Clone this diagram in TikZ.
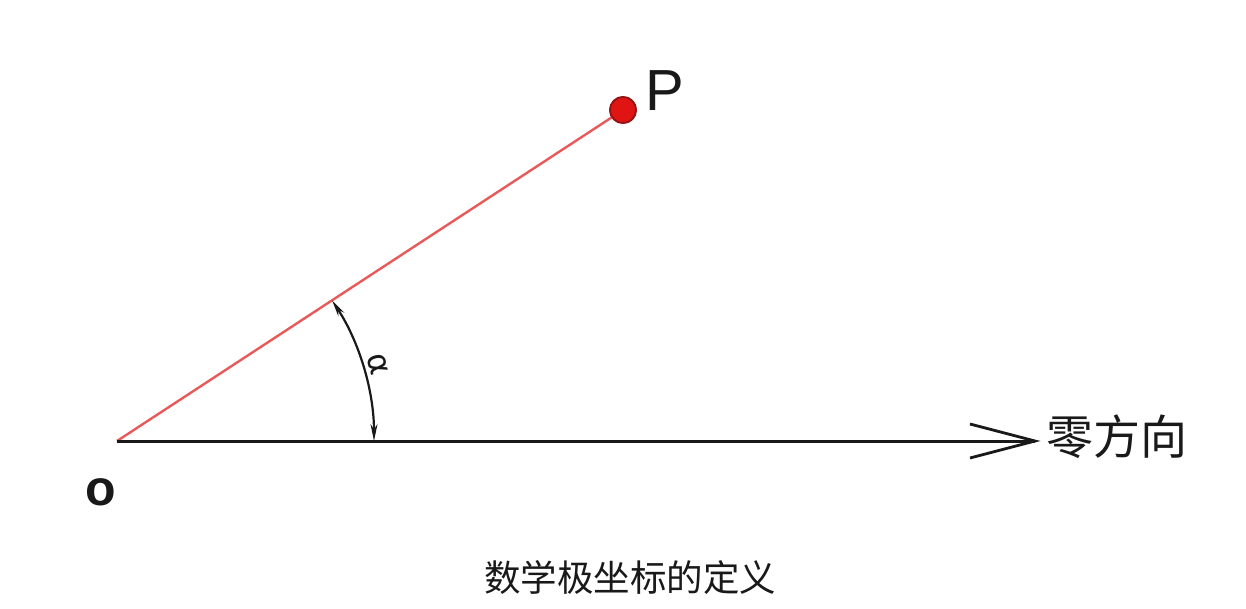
\documentclass[tikz,border=0pt]{standalone}
\usepackage{fontspec}
\setmainfont{Liberation Sans}
\newfontfamily\cjk{Noto Sans CJK SC}
\newfontfamily\greek{DejaVu Sans}
\usetikzlibrary{arrows.meta}
\definecolor{linered}{RGB}{232,90,90}
\definecolor{dotred}{RGB}{225,20,20}
\definecolor{dotedge}{RGB}{150,20,20}
\tikzset{
  axisline/.style={line width=3pt, black!90},
  rayline/.style={line width=2.4pt, linered},
  anglearc/.style={line width=2.2pt, black!90, {Stealth[length=17pt,width=7pt]}-{Stealth[length=17pt,width=7pt]}},
  pointdot/.style={circle, fill=dotred, draw=dotedge, line width=1.8pt, minimum size=26pt, inner sep=0pt},
  lbl/.style={inner sep=0pt, text=black!90},
}
\begin{document}
\begin{tikzpicture}[x=1pt,y=-1pt]
\useasboundingbox (0,0) rectangle (1246,608);
\coordinate (O) at (117,441);
\coordinate (E) at (1035,441);
\node[pointdot] (P) at (623,110) {};
\draw[rayline] (O) -- (P.center);
\node[pointdot] at (623,110) {};
\draw[axisline] (O) -- (E);
\coordinate (A1) at (970,424);
\coordinate (A2) at (970,458);
\draw[line width=2.8pt, black!90, line join=miter] (A1) -- (E) -- (A2);
\draw[anglearc] ([shift={(-33.2:257)}]O) arc[start angle=-33.2, end angle=0, radius=257];
\node[lbl, font=\greek\fontsize{32}{32}\selectfont, rotate=-75] (alpha) at (378,364) {α};
\node[lbl, font=\fontsize{58}{58}\selectfont] (Plbl) at (665,91) {P};
\node[lbl, font=\bfseries\fontsize{50}{50}\selectfont] (Olbl) at (101,492) {o};
\node[lbl, font=\cjk\fontsize{47}{47}\selectfont] (zero) at (1117,437) {零方向};
\node[lbl, font=\cjk\fontsize{36.5}{36.5}\selectfont] (cap) at (630,578) {数学极坐标的定义};
\end{tikzpicture}
\end{document}
